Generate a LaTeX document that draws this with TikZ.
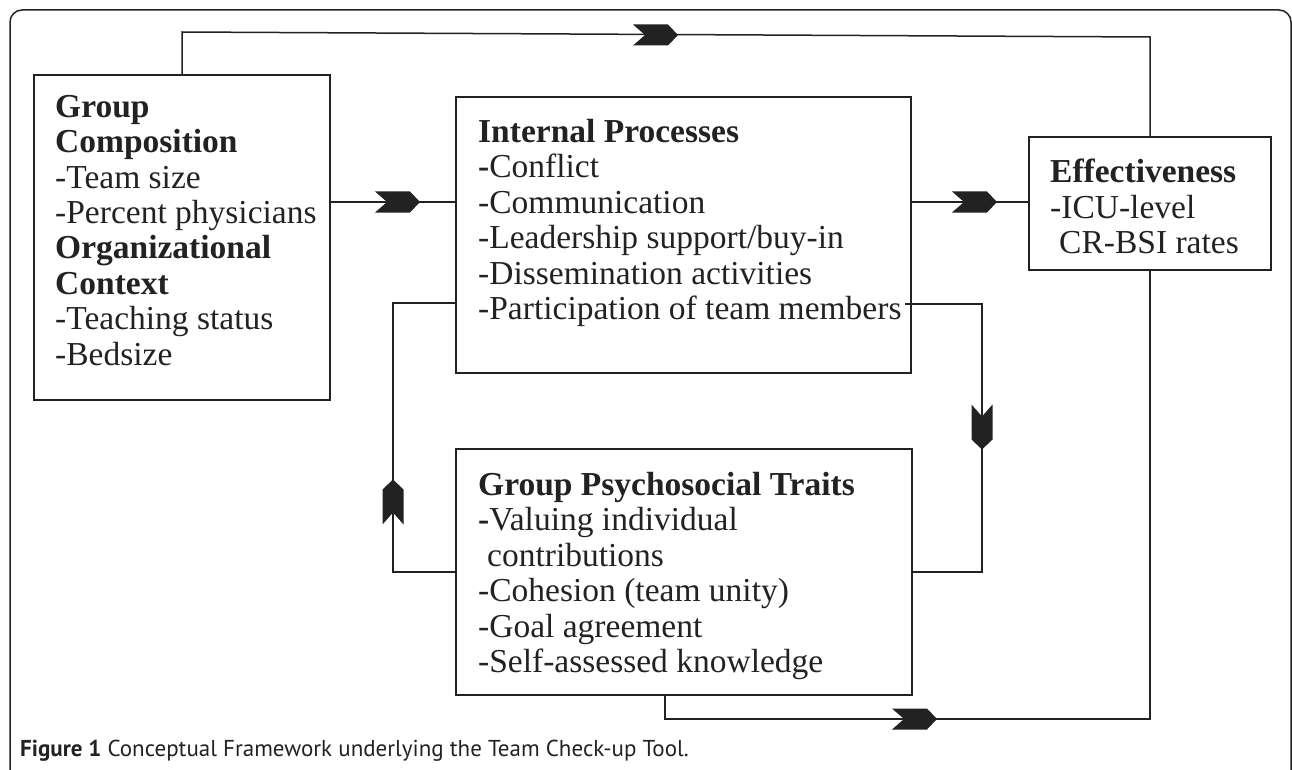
\documentclass[tikz,border=0pt]{standalone}
\usepackage{fontspec}
\setmainfont{Liberation Serif}
\newfontfamily\capfont{PT Sans}
\definecolor{ink}{HTML}{222222}
\begin{document}
\begin{tikzpicture}[x=1pt,y=-1pt,
  line/.style={draw=ink, line width=1.5pt},
  box/.style={draw=ink, line width=1.8pt, anchor=north west, inner sep=0pt, outer sep=0pt},
  txt/.style={anchor=north west, inner sep=0pt, align=left, text=ink, font=\fontsize{33.5}{35.4}\selectfont},
  chev/.pic={\fill[ink] (-22.5,-10.5) -- (-10.5,0) -- (-22.5,10.5) -- (12.5,10.5) -- (22.5,0) -- (12.5,-10.5) -- cycle;}
]
\useasboundingbox (0,0) rectangle (1292,770);
% outer frame
\draw[line, rounded corners=12pt] (10,780) -- (10,10) -- (1291,10) -- (1291,780);

% boxes
\node[box, minimum width=296pt, minimum height=325pt] (A) at (34,75) {};
\node[box, minimum width=455pt, minimum height=276pt] (B) at (456,97) {};
\node[box, minimum width=242pt, minimum height=133pt] (C) at (1029,137) {};
\node[box, minimum width=456pt, minimum height=246pt] (D) at (456,449) {};

% texts
\node[txt] (tA) at (55,95) {\textbf{Group}\\\textbf{Composition}\\-Team size\\-Percent physicians\\\textbf{Organizational}\\\textbf{Context}\\-Teaching status\\-Bedsize};
\node[txt] (tB) at (478,119) {\textbf{Internal Processes}\\\textbf{-}Conflict\\-Communication\\-Leadership support/buy-in\\-Dissemination activities\\-Participation of team members};
\node[txt] (tC) at (1050,159) {\textbf{Effectiveness}\\-ICU-level\\\hspace*{9pt}CR-BSI rates};
\node[txt] (tD) at (478,472) {\textbf{Group Psychosocial Traits}\\\textbf{-}Valuing individual\\\hspace*{9pt}contributions\\-Cohesion (team unity)\\-Goal agreement\\-Self-assessed knowledge};

% connectors
\draw[line] (A.north) -- (A.north |- 0,32) -- (C.north |- 0,37) -- (C.north);
\draw[line] (A.east |- 0,202) -- (B.west |- 0,202);
\draw[line] (B.east |- 0,202) -- (C.west |- 0,202);
\draw[line] (D.south -| 665,0) -- (665,719) -- (C.south |- 0,719) -- (C.south);
\draw[line] (D.west |- 0,572) -- (393,572) -- (393,303) -- (B.west |- 0,303);
\coordinate (r0) at (905,304);
\draw[line] (r0) -- (982,304) -- (982,572) -- (D.east |- 0,572);

% arrow heads
\pic at (397.5,202) {chev};
\pic at (974.5,202) {chev};
\pic at (655.5,35) {chev};
\pic at (914.5,719) {chev};
\pic[rotate=-90] at (982,427) {chev};
\pic[rotate=90] at (393,502) {chev};

% caption
\node[anchor=base west, inner sep=0pt, text=ink, font=\capfont\fontsize{23}{27}\selectfont] (cap) at (20,756) {\textbf{Figure 1} Conceptual Framework underlying the Team Check-up Tool.};
\end{tikzpicture}
\end{document}
